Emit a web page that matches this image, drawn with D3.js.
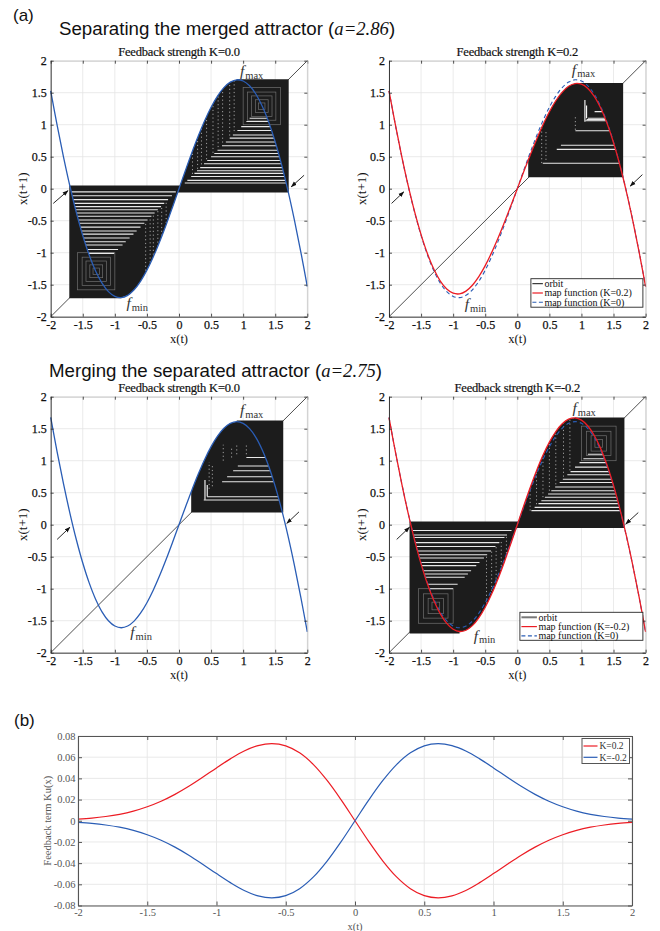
<!DOCTYPE html>
<html>
<head>
<meta charset="utf-8">
<script src="https://cdn.jsdelivr.net/npm/d3@7/dist/d3.min.js"></script>
<style>
  html,body{margin:0;padding:0;background:#fff;}
  svg{display:block;}
</style>
</head>
<body>
<svg id="fig" width="660" height="931"></svg>
<script>
// ---------------- data ----------------
const XS = [-2.0,-1.9,-1.8,-1.7,-1.6,-1.5,-1.4,-1.3,-1.2,-1.1,-1.0,-0.9,-0.8,-0.7,-0.6,-0.5,-0.4,-0.3,-0.2,-0.1,0.0,
             0.1,0.2,0.3,0.4,0.5,0.6,0.7,0.8,0.9,1.0,1.1,1.2,1.3,1.4,1.5,1.6,1.7,1.8,1.9,2.0];
// map function, a=2.86, K=0
const MAP_A286_K0 = [1.5283,0.9932,0.4947,0.0382,-0.3716,-0.7306,-1.0357,-1.2845,-1.4755,-1.6082,-1.6830,-1.7015,-1.6659,-1.5797,-1.4470,-1.2728,-1.0629,-0.8236,-0.5618,-0.2847,0,
                     0.2847,0.5618,0.8236,1.0629,1.2728,1.4470,1.5797,1.6659,1.7015,1.6830,1.6082,1.4755,1.2845,1.0357,0.7306,0.3716,-0.0382,-0.4947,-0.9932,-1.5283];
// map function, a=2.86, K=0.2
const MAP_A286_KP = [1.5299,0.9957,0.4987,0.0443,-0.3625,-0.7175,-1.0173,-1.2596,-1.4430,-1.5672,-1.6331,-1.6430,-1.6001,-1.5088,-1.3742,-1.2021,-0.9988,-0.7706,-0.5239,-0.2650,0,
                     0.2650,0.5239,0.7706,0.9988,1.2021,1.3742,1.5088,1.6001,1.6430,1.6331,1.5672,1.4430,1.2596,1.0173,0.7175,0.3625,-0.0443,-0.4987,-0.9957,-1.5299];
// map function, a=2.75, K=0
const MAP_A275_K0 = [1.6758,1.1389,0.6379,0.1783,-0.2353,-0.5989,-0.9091,-1.1637,-1.3612,-1.5009,-1.5835,-1.6102,-1.5834,-1.5064,-1.3833,-1.2191,-1.0196,-0.7909,-0.5398,-0.2737,0,
                     0.2737,0.5398,0.7909,1.0196,1.2191,1.3833,1.5064,1.5834,1.6102,1.5835,1.5009,1.3612,1.1637,0.9091,0.5989,0.2353,-0.1783,-0.6379,-1.1389,-1.6758];
// map function, a=2.75, K=-0.2
const MAP_A275_KN = [1.6743,1.1363,0.6339,0.1721,-0.2445,-0.6121,-0.9275,-1.1886,-1.3937,-1.5419,-1.6333,-1.6686,-1.6491,-1.5772,-1.4561,-1.2898,-1.0836,-0.8438,-0.5777,-0.2935,0,
                     0.2935,0.5777,0.8438,1.0836,1.2898,1.4561,1.5772,1.6491,1.6686,1.6333,1.5419,1.3937,1.1886,0.9275,0.6121,0.2445,-0.1721,-0.6339,-1.1363,-1.6743];
// feedback term Ku(x)
const KU_KP = [0.0015,0.0025,0.0040,0.0061,0.0091,0.0132,0.0184,0.0249,0.0325,0.0410,0.0499,0.0584,0.0658,0.0709,0.0728,0.0707,0.0641,0.0530,0.0378,0.0197,0,
               -0.0197,-0.0378,-0.0530,-0.0641,-0.0707,-0.0728,-0.0709,-0.0658,-0.0584,-0.0499,-0.0410,-0.0325,-0.0249,-0.0184,-0.0132,-0.0091,-0.0061,-0.0040,-0.0025,-0.0015];
const KU_KN = [-0.0015,-0.0025,-0.0040,-0.0061,-0.0091,-0.0132,-0.0184,-0.0249,-0.0325,-0.0410,-0.0499,-0.0584,-0.0658,-0.0709,-0.0728,-0.0707,-0.0641,-0.0530,-0.0378,-0.0197,0,
               0.0197,0.0378,0.0530,0.0641,0.0707,0.0728,0.0709,0.0658,0.0584,0.0499,0.0410,0.0325,0.0249,0.0184,0.0132,0.0091,0.0061,0.0040,0.0025,0.0015];

const AXIS_TICKS = [-2,-1.5,-1,-0.5,0,0.5,1,1.5,2];
const B_YTICKS = [-0.08,-0.06,-0.04,-0.02,0,0.02,0.04,0.06,0.08];

// orbit regions: bounds [x0, x1, y0, y1]
const TL_LEFT_BOX  = [-1.71, 0.04, -1.71, 0.05];
const TL_RIGHT_BOX = [-0.05, 1.71, -0.06, 1.71];
const TL_LEFT_GAPS  = [-0.05,-0.11,-0.17,-0.23,-0.28,-0.33,-0.38,-0.43,-0.49,-0.54,-0.60,-0.66,-0.71,-0.77,-0.83,-0.88,-0.95,-1.01];
const TL_RIGHT_GAPS = [0.09,0.13,0.19,0.24,0.28,0.33,0.39,0.44,0.50,0.55,0.60,0.67,0.73,0.79,0.84,0.91,0.97,1.05,1.10];
const TL_FIXED = 1.29;
const TL_SQUARES = [0.05,0.10,0.16,0.22,0.29];
const TL_LEFT_COLS  = [[-0.52,-0.55,-1.4],[-0.45,-0.48,-1.3],[-0.40,-0.42,-1.2],[-0.33,-0.35,-1.0],[-0.27,-0.3,-0.9],[-0.20,-0.22,-0.7]];
const TL_RIGHT_COLS = [[0.21,0.23,0.7],[0.29,0.31,0.9],[0.35,0.38,1.0],[0.43,0.46,1.2],[0.53,0.56,1.4],[0.61,0.65,1.55],[0.68,0.72,1.65],[0.79,0.83,1.7],[0.86,0.9,1.7]];

const TR_BOX = [0.17, 1.65, 0.18, 1.65];
const TR_GAPS = [0.397,0.615,0.68,0.906,1.062,1.08,1.10,1.205];
const TR_VLINES = [[1.054,1.047,1.386],[1.08,1.10,1.30]];
const TR_COLS = [[0.38,0.40,0.99],[0.447,0.45,0.92],[0.905,0.92,1.15]];

const BL_BOX = [0.19, 1.625, 0.19, 1.63];
const BL_GAPS = [0.386,0.4375,0.672,0.75,0.844,0.917,1.05];
const BL_VLINES = [[0.405,0.39,0.70],[0.44,0.44,0.62]];
const BL_COLS = [[0.69,1.0,1.25],[0.82,1.05,1.22],[0.90,1.1,1.25],[1.05,1.1,1.25],[0.47,0.56,0.98],[0.52,0.6,0.95]];

const BR_LEFT_BOX  = [-1.68, 0.03, -1.70, 0.05];
const BR_RIGHT_BOX = [-0.03, 1.67, -0.05, 1.675];
const BR_LEFT_GAPS  = [-0.09,-0.16,-0.20,-0.28,-0.34,-0.41,-0.47,-0.52,-0.59,-0.64,-0.72,-0.77,-0.82,-0.93,-1.0];
const BR_RIGHT_GAPS = [0.22,0.27,0.33,0.375,0.43,0.48,0.53,0.59,0.66,0.71,0.78,0.83,0.90,0.97,1.03,1.10];
const BR_FIXED = 1.27;
const BR_SQUARES = [0.06,0.12,0.19,0.27];
const BR_LEFT_COLS  = [[-0.48,-0.5,-1.4],[-0.40,-0.42,-1.25],[-0.33,-0.35,-1.1],[-0.25,-0.27,-0.9],[-0.17,-0.19,-0.6]];
const BR_RIGHT_COLS = [[0.20,0.22,0.7],[0.30,0.32,0.9],[0.40,0.43,1.1],[0.50,0.53,1.3],[0.60,0.63,1.5],[0.72,0.75,1.65],[0.82,0.85,1.7]];

// arrows [x1,y1,x2,y2]
const TL_ARROWS = [[-1.96,-0.23,-1.73,-0.03],[1.95,0.21,1.75,0.03]];
const TR_ARROWS = [[-1.96,-0.23,-1.77,-0.05],[1.95,0.22,1.76,0.04]];
const BL_ARROWS = [[-1.90,-0.23,-1.70,-0.04],[1.87,0.20,1.68,0.02]];
const BR_ARROWS = [[-1.88,-0.23,-1.68,-0.04],[1.886,0.19,1.69,0.01]];
// f_max / f_min label anchors [x, y]
const TL_FLABELS = [[0.95,1.76],[-0.82,-1.87]];
const TR_FLABELS = [[0.85,1.78],[-0.82,-1.88]];
const BL_FLABELS = [[0.95,1.71],[-0.76,-1.76]];
const BR_FLABELS = [[0.86,1.745],[-0.68,-1.81]];

const TITLES = ["Feedback strength K=0.0","Feedback strength K=0.2","Feedback strength K=0.0","Feedback strength K=-0.2"];
const HEAD_1 = ["Separating the merged attractor (","a=2.86",")"];
const HEAD_2 = ["Merging the separated attractor (","a=2.75",")"];
const LEGEND_TR = ["orbit","map function (K=0.2)","map function (K=0)"];
const LEGEND_BR = ["orbit","map function (K=-0.2)","map function (K=0)"];
const LEGEND_B = ["K=0.2","K=-0.2"];

// ---------------- drawing ----------------
const svg = d3.select("#fig");
const defs = svg.append("defs");
const SERIF = "'Liberation Serif','Times New Roman',Times,serif";
const SANS = "'Liberation Sans',Arial,Helvetica,sans-serif";
const BLUE = "#2a5db5", RED = "#ec1c24", INK = "#1c1c1c", AXC = "#262626";

defs.append("marker").attr("id","ah").attr("viewBox","0 0 10 10").attr("refX",9).attr("refY",5)
  .attr("markerUnits","userSpaceOnUse").attr("markerWidth",6).attr("markerHeight",6).attr("orient","auto")
  .append("path").attr("d","M0,1.5L10,5L0,8.5Z").attr("fill","#111");

function header(x, y, parts){
  const t = svg.append("text").attr("x",x).attr("y",y).attr("font-family",SANS).attr("font-size",18.7).attr("fill","#111");
  t.append("tspan").text(parts[0]);
  t.append("tspan").attr("font-family",SERIF).attr("font-style","italic").text(parts[1]);
  t.append("tspan").text(parts[2]);
}
svg.append("text").attr("x",13).attr("y",21).attr("font-family",SANS).attr("font-size",17).attr("fill","#111").text("(a)");
header(59, 35, HEAD_1);
header(49, 376.5, HEAD_2);
svg.append("text").attr("x",14).attr("y",726).attr("font-family",SANS).attr("font-size",17).attr("fill","#111").text("(b)");

const PW = 256.6, PH = 256;

function panel(P){
  const x = d3.scaleLinear().domain([-2,2]).range([P.left, P.left+PW]);
  const y = d3.scaleLinear().domain([-2,2]).range([P.top+PH, P.top]);
  const g = svg.append("g");
  const pts = XS.map((v,i)=>[v, P.curve[i]]);
  const line = d3.line().x(d=>x(d[0])).y(d=>y(d[1])).curve(d3.curveCatmullRom.alpha(0.5));

  // grid
  g.append("g").selectAll("line").data(AXIS_TICKS).join("line")
    .attr("x1",d=>x(d)).attr("x2",d=>x(d)).attr("y1",y(-2)).attr("y2",y(2))
    .attr("stroke","#e4e4e4").attr("stroke-width",0.8);
  g.append("g").selectAll("line").data(AXIS_TICKS).join("line")
    .attr("y1",d=>y(d)).attr("y2",d=>y(d)).attr("x1",x(-2)).attr("x2",x(2))
    .attr("stroke","#e4e4e4").attr("stroke-width",0.8);

  // diagonal
  g.append("line").attr("x1",x(-2)).attr("y1",y(-2)).attr("x2",x(2)).attr("y2",y(2))
    .attr("stroke","#222").attr("stroke-width",0.8);

  // orbit regions
  const posSeg = pts.filter(p=>p[0]>=0 && p[0]<=1.5);
  const xm = posSeg[d3.maxIndex(posSeg,p=>p[1])][0];
  const negSeg = pts.filter(p=>p[0]>=-1.5 && p[0]<=0);
  const xmn = negSeg[d3.minIndex(negSeg,p=>p[1])][0];

  P.boxes.forEach((B,bi)=>{
    const id = P.id + "b" + bi;
    const [x0,x1,y0,y1] = B.bounds;
    defs.append("clipPath").attr("id", id+"r").append("rect")
      .attr("x",x(x0)).attr("y",y(y1)).attr("width",x(x1)-x(x0)).attr("height",y(y0)-y(y1));
    let dPath, branch;
    if (B.side === "R"){
      const s2 = pts.filter(p=>p[0]>=-0.6-1e-9 && p[0]<=xm+1e-9);
      dPath = `M${x(-0.6)},${y(-3)}` + line(s2).replace(/^M/,"L") +
              `L${x(xm)},${y(3)}L${x(3)},${y(3)}L${x(3)},${y(-3)}Z`;
      branch = pts.filter(p=>p[0]>=xm-1e-9);
    } else {
      const s2 = pts.filter(p=>p[0]>=xmn-1e-9 && p[0]<=0.6+1e-9);
      dPath = `M${x(-3)},${y(3)}L${x(-3)},${y(-3)}L${x(xmn)},${y(-3)}` + line(s2).replace(/^M/,"L") +
              `L${x(0.6)},${y(3)}Z`;
      branch = pts.filter(p=>p[0]<=xmn+1e-9);
    }
    defs.append("clipPath").attr("id", id+"c").append("path").attr("d", dPath);
    const inv = d3.scaleLinear().domain(branch.map(p=>p[1])).range(branch.map(p=>p[0])).clamp(true);

    const outer = g.append("g").attr("clip-path",`url(#${id}r)`);
    const inner = outer.append("g").attr("clip-path",`url(#${id}c)`);
    inner.append("rect").attr("x",x(x0)-1).attr("y",y(y1)-1)
      .attr("width",x(x1)-x(x0)+2).attr("height",y(y0)-y(y1)+2).attr("fill",INK);

    // near fixed point squares (faint)
    if (B.squares){
      inner.append("g").selectAll("rect").data(B.squares).join("rect")
        .attr("x",d=>x(B.p-d)).attr("y",d=>y(B.p+d))
        .attr("width",d=>x(B.p+d)-x(B.p-d)).attr("height",d=>y(B.p-d)-y(B.p+d))
        .attr("fill","none").attr("stroke","#8c8c8c").attr("stroke-width",0.7).attr("stroke-opacity",0.75);
    }
    // white gaps of the orbit (horizontal, diagonal <-> outer branch)
    inner.append("g").selectAll("line").data(B.gaps || []).join("line")
      .attr("x1",v=>x(v)).attr("x2",v=>x(inv(v))).attr("y1",v=>y(v)).attr("y2",v=>y(v))
      .attr("stroke","#fff").attr("stroke-width",1.1).attr("stroke-opacity",0.9);
    // vertical white lines
    inner.append("g").selectAll("line").data(B.vlines || []).join("line")
      .attr("x1",d=>x(d[0])).attr("x2",d=>x(d[0])).attr("y1",d=>y(d[1])).attr("y2",d=>y(d[2]))
      .attr("stroke","#fff").attr("stroke-width",1.1);
    // dotted columns
    inner.append("g").selectAll("line").data(B.cols || []).join("line")
      .attr("x1",d=>x(d[0])).attr("x2",d=>x(d[0])).attr("y1",d=>y(d[1])).attr("y2",d=>y(d[2]))
      .attr("stroke","#fff").attr("stroke-width",0.9).attr("stroke-dasharray","1.2,2.6").attr("stroke-opacity",0.65);
  });

  // curves
  if (P.ref){
    g.append("path").datum(XS.map((v,i)=>[v,P.ref[i]])).attr("d",line)
      .attr("fill","none").attr("stroke",BLUE).attr("stroke-width",1.1).attr("stroke-dasharray","4,3");
  }
  g.append("path").datum(pts).attr("d",line)
    .attr("fill","none").attr("stroke",P.color).attr("stroke-width",1.3);

  // arrows
  g.append("g").selectAll("line").data(P.arrows).join("line")
    .attr("x1",d=>x(d[0])).attr("y1",d=>y(d[1])).attr("x2",d=>x(d[2])).attr("y2",d=>y(d[3]))
    .attr("stroke","#111").attr("stroke-width",0.9).attr("marker-end","url(#ah)");

  // f_max / f_min
  ["max","min"].forEach((s,i)=>{
    const t = g.append("text").attr("x",x(P.flabels[i][0])).attr("y",y(P.flabels[i][1]))
      .attr("fill","#333").attr("font-family",SERIF);
    t.append("tspan").attr("font-style","italic").attr("font-size",15.5).text("f");
    t.append("tspan").attr("font-size",10.5).attr("dy",2.5).attr("dx",1).text(s);
  });

  // axes
  const styleAx = (a, dark) => {
    a.attr("font-family",SERIF).attr("font-size",12);
    a.select(".domain").attr("stroke", dark ? AXC : "#c4c4c4").attr("stroke-width",0.9);
    a.selectAll(".tick line").attr("stroke",AXC).attr("stroke-width",0.8);
    a.selectAll(".tick text").attr("fill","#111").attr("stroke","#111").attr("stroke-width",0.25);
  };
  const fmt = d => String(d);
  const axT = g.append("g").attr("transform",`translate(0,${y(2)})`)
    .call(d3.axisTop(x).tickValues(AXIS_TICKS).tickFormat("").tickSize(-3).tickSizeOuter(0));
  styleAx(axT,false);
  const axR = g.append("g").attr("transform",`translate(${x(2)},0)`)
    .call(d3.axisRight(y).tickValues(AXIS_TICKS).tickFormat("").tickSize(-3).tickSizeOuter(0));
  styleAx(axR,false);
  const axB = g.append("g").attr("transform",`translate(0,${y(-2)})`)
    .call(d3.axisBottom(x).tickValues(AXIS_TICKS).tickFormat(fmt).tickSize(-3).tickSizeOuter(0).tickPadding(4));
  styleAx(axB,true);
  const axL = g.append("g").attr("transform",`translate(${x(-2)},0)`)
    .call(d3.axisLeft(y).tickValues(AXIS_TICKS).tickFormat(fmt).tickSize(-3).tickSizeOuter(0).tickPadding(4));
  styleAx(axL,true);

  // titles and labels
  g.append("text").attr("x",(x(-2)+x(2))/2).attr("y",P.top-4.5).attr("text-anchor","middle")
    .attr("font-family",SERIF).attr("font-size",12.5).attr("fill","#111").attr("stroke","#111").attr("stroke-width",0.2)
    .attr("letter-spacing",-0.2).text(P.title);
  g.append("text").attr("x",(x(-2)+x(2))/2).attr("y",y(-2)+26).attr("text-anchor","middle")
    .attr("font-family",SERIF).attr("font-size",12.5).attr("fill","#111").text("x(t)");
  g.append("text").attr("transform",`translate(${x(-2)-23.5},${(y(-2)+y(2))/2}) rotate(-90)`)
    .attr("text-anchor","middle").attr("font-family",SERIF).attr("font-size",13).attr("fill","#111").text("x(t+1)");

  // legend
  if (P.legend){
    const L = P.legend;
    const right = x(2) - 2.7, bottom = y(-2) - L.bottomGap;
    const top = bottom - L.h, left = right - L.w;
    const lg = g.append("g");
    lg.append("rect").attr("x",left).attr("y",top).attr("width",L.w).attr("height",L.h)
      .attr("fill","#fff").attr("stroke",AXC).attr("stroke-width",0.9);
    const styles = [
      {c: L.orbitColor, w: L.orbitWidth, dash: null},
      {c: RED, w: 1.2, dash: null},
      {c: BLUE, w: 1.1, dash: "4,2.5"}
    ];
    L.labels.forEach((lab,i)=>{
      const cy = top + 5 + i*9.3;
      lg.append("line").attr("x1",left+1.5).attr("x2",left+1.5+L.lineLen).attr("y1",cy).attr("y2",cy)
        .attr("stroke",styles[i].c).attr("stroke-width",styles[i].w).attr("stroke-dasharray",styles[i].dash);
      lg.append("text").attr("x",left+3+L.lineLen).attr("y",cy+3.4)
        .attr("font-family",SERIF).attr("font-size",10).attr("fill","#111").text(lab);
    });
  }
}

panel({id:"tl", left:50.7, top:60.7, curve:MAP_A286_K0, color:BLUE, title:TITLES[0],
  arrows:TL_ARROWS, flabels:TL_FLABELS,
  boxes:[
    {side:"L", bounds:TL_LEFT_BOX, gaps:TL_LEFT_GAPS, cols:TL_LEFT_COLS, p:-TL_FIXED, squares:TL_SQUARES},
    {side:"R", bounds:TL_RIGHT_BOX, gaps:TL_RIGHT_GAPS, cols:TL_RIGHT_COLS, p:TL_FIXED, squares:TL_SQUARES}
  ]});
panel({id:"tr", left:389, top:60.7, curve:MAP_A286_KP, ref:MAP_A286_K0, color:RED, title:TITLES[1],
  arrows:TR_ARROWS, flabels:TR_FLABELS,
  boxes:[{side:"R", bounds:TR_BOX, gaps:TR_GAPS, vlines:TR_VLINES, cols:TR_COLS}],
  legend:{labels:LEGEND_TR, w:112, h:28.5, bottomGap:9.5, lineLen:10.5, orbitColor:"#111", orbitWidth:1}});
panel({id:"bl", left:50.7, top:396.7, curve:MAP_A275_K0, color:BLUE, title:TITLES[2],
  arrows:BL_ARROWS, flabels:BL_FLABELS,
  boxes:[{side:"R", bounds:BL_BOX, gaps:BL_GAPS, vlines:BL_VLINES, cols:BL_COLS}]});
panel({id:"br", left:389, top:396.7, curve:MAP_A275_KN, ref:MAP_A275_K0, color:RED, title:TITLES[3],
  arrows:BR_ARROWS, flabels:BR_FLABELS,
  boxes:[
    {side:"L", bounds:BR_LEFT_BOX, gaps:BR_LEFT_GAPS, cols:BR_LEFT_COLS, p:-BR_FIXED, squares:BR_SQUARES},
    {side:"R", bounds:BR_RIGHT_BOX, gaps:BR_RIGHT_GAPS, cols:BR_RIGHT_COLS, p:BR_FIXED, squares:BR_SQUARES}
  ],
  legend:{labels:LEGEND_BR, w:123, h:28, bottomGap:12.4, lineLen:15.5, orbitColor:"#777", orbitWidth:2}});

// ---------------- panel (b) ----------------
(function(){
  const x = d3.scaleLinear().domain([-2,2]).range([78,632]);
  const y = d3.scaleLinear().domain([-0.08,0.08]).range([905.5,736]);
  const g = svg.append("g");
  const GC = "#e6e6e6", AC = "#555";
  g.append("g").selectAll("line").data(AXIS_TICKS).join("line")
    .attr("x1",d=>x(d)).attr("x2",d=>x(d)).attr("y1",y(-0.08)).attr("y2",y(0.08)).attr("stroke",GC).attr("stroke-width",0.9);
  g.append("g").selectAll("line").data(B_YTICKS).join("line")
    .attr("y1",d=>y(d)).attr("y2",d=>y(d)).attr("x1",x(-2)).attr("x2",x(2)).attr("stroke",GC).attr("stroke-width",0.9);

  const line = d3.line().x(d=>x(d[0])).y(d=>y(d[1])).curve(d3.curveCatmullRom.alpha(0.5));
  g.append("path").datum(XS.map((v,i)=>[v,KU_KP[i]])).attr("d",line).attr("fill","none").attr("stroke",RED).attr("stroke-width",1.2);
  g.append("path").datum(XS.map((v,i)=>[v,KU_KN[i]])).attr("d",line).attr("fill","none").attr("stroke",BLUE).attr("stroke-width",1.2);

  const st = a => {
    a.attr("font-family",SERIF).attr("font-size",10.5);
    a.select(".domain").attr("stroke",AC).attr("stroke-width",1.1);
    a.selectAll(".tick line").attr("stroke",AC).attr("stroke-width",1);
    a.selectAll(".tick text").attr("fill","#555");
  };
  const fmt = d => String(d);
  st(g.append("g").attr("transform",`translate(0,${y(-0.08)})`)
    .call(d3.axisBottom(x).tickValues(AXIS_TICKS).tickFormat(fmt).tickSize(-4).tickSizeOuter(0).tickPadding(3.5)));
  st(g.append("g").attr("transform",`translate(0,${y(0.08)})`)
    .call(d3.axisTop(x).tickValues(AXIS_TICKS).tickFormat("").tickSize(-4).tickSizeOuter(0)));
  st(g.append("g").attr("transform",`translate(${x(-2)},0)`)
    .call(d3.axisLeft(y).tickValues(B_YTICKS).tickFormat(fmt).tickSize(-4).tickSizeOuter(0).tickPadding(2.5)));
  st(g.append("g").attr("transform",`translate(${x(2)},0)`)
    .call(d3.axisRight(y).tickValues(B_YTICKS).tickFormat("").tickSize(-4).tickSizeOuter(0)));

  g.append("text").attr("x",x(0)).attr("y",929.5).attr("text-anchor","middle")
    .attr("font-family",SERIF).attr("font-size",10.5).attr("fill","#555").text("x(t)");
  g.append("text").attr("transform",`translate(50.5,${(y(-0.08)+y(0.08))/2}) rotate(-90)`).attr("text-anchor","middle")
    .attr("font-family",SERIF).attr("font-size",10.5).attr("fill","#555").text("Feedback term Ku(x)");

  // legend
  const left = x(2) - 50, top = y(0.08) + 2.5, w = 47.5, h = 25;
  const lg = g.append("g");
  lg.append("rect").attr("x",left).attr("y",top).attr("width",w).attr("height",h).attr("fill","#fff").attr("stroke",AC).attr("stroke-width",1);
  [RED, BLUE].forEach((c,i)=>{
    const cy = top + 7.5 + i*11.3;
    lg.append("line").attr("x1",left+1.5).attr("x2",left+15.5).attr("y1",cy).attr("y2",cy).attr("stroke",c).attr("stroke-width",1.2);
    lg.append("text").attr("x",left+17.5).attr("y",cy+3.2).attr("font-family",SERIF).attr("font-size",9.5).attr("fill","#333").text(LEGEND_B[i]);
  });
})();
</script>
</body>
</html>
